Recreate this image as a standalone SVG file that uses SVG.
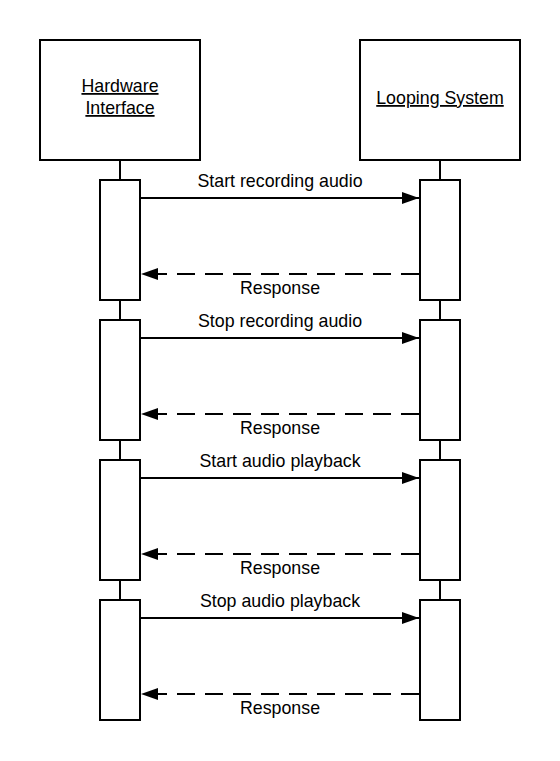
<svg xmlns="http://www.w3.org/2000/svg" width="560" height="761" viewBox="0 0 560 761">
<style>
.box{fill:#fff;stroke:#000;stroke-width:2}
.life{stroke:#000;stroke-width:2}
.msg{stroke:#000;stroke-width:2;fill:none}
.dash{stroke-dasharray:18 10}
text{font-family:"Liberation Sans",Arial,sans-serif;font-size:17.8px;fill:#000;text-anchor:middle}
.u{text-decoration:underline}
</style>
<defs>
<marker id="ah" markerWidth="18" markerHeight="12" refX="17" refY="6" orient="auto" markerUnits="userSpaceOnUse">
<path d="M0,0 L17,6 L0,12 Z" fill="#000"/>
</marker>
</defs>
<rect width="560" height="761" fill="#fff"/>
<g id="lifelines">
<line class="life" x1="120" y1="160" x2="120" y2="180"/>
<line class="life" x1="120" y1="300" x2="120" y2="320"/>
<line class="life" x1="120" y1="440" x2="120" y2="460"/>
<line class="life" x1="120" y1="580" x2="120" y2="600"/>
<line class="life" x1="440" y1="160" x2="440" y2="180"/>
<line class="life" x1="440" y1="300" x2="440" y2="320"/>
<line class="life" x1="440" y1="440" x2="440" y2="460"/>
<line class="life" x1="440" y1="580" x2="440" y2="600"/>
</g>
<g id="hardware">
<rect class="box" x="40" y="40" width="160" height="120"/>
<text class="u" x="120" y="92">Hardware</text>
<text class="u" x="120" y="114">Interface</text>
</g>
<g id="looping">
<rect class="box" x="360" y="40" width="160" height="120"/>
<text class="u" x="440" y="104">Looping System</text>
</g>
<g id="activations">
<rect id="hw1" class="box" x="100" y="180" width="40" height="120"/>
<rect id="hw2" class="box" x="100" y="320" width="40" height="120"/>
<rect id="hw3" class="box" x="100" y="460" width="40" height="120"/>
<rect id="hw4" class="box" x="100" y="600" width="40" height="120"/>
<rect id="ls1" class="box" x="420" y="180" width="40" height="120"/>
<rect id="ls2" class="box" x="420" y="320" width="40" height="120"/>
<rect id="ls3" class="box" x="420" y="460" width="40" height="120"/>
<rect id="ls4" class="box" x="420" y="600" width="40" height="120"/>
</g>
<g id="connectors">
<line class="msg" x1="141" y1="198" x2="419" y2="198" marker-end="url(#ah)"/>
<line class="msg dash" x1="419" y1="274" x2="141" y2="274" marker-end="url(#ah)"/>
<line class="msg" x1="141" y1="338" x2="419" y2="338" marker-end="url(#ah)"/>
<line class="msg dash" x1="419" y1="414" x2="141" y2="414" marker-end="url(#ah)"/>
<line class="msg" x1="141" y1="478" x2="419" y2="478" marker-end="url(#ah)"/>
<line class="msg dash" x1="419" y1="554" x2="141" y2="554" marker-end="url(#ah)"/>
<line class="msg" x1="141" y1="618" x2="419" y2="618" marker-end="url(#ah)"/>
<line class="msg dash" x1="419" y1="694" x2="141" y2="694" marker-end="url(#ah)"/>
</g>
<g id="labels">
<text x="280" y="187">Start recording audio</text>
<text x="280" y="294">Response</text>
<text x="280" y="327">Stop recording audio</text>
<text x="280" y="434">Response</text>
<text x="280" y="467">Start audio playback</text>
<text x="280" y="574">Response</text>
<text x="280" y="607">Stop audio playback</text>
<text x="280" y="714">Response</text>
</g>
</svg>
